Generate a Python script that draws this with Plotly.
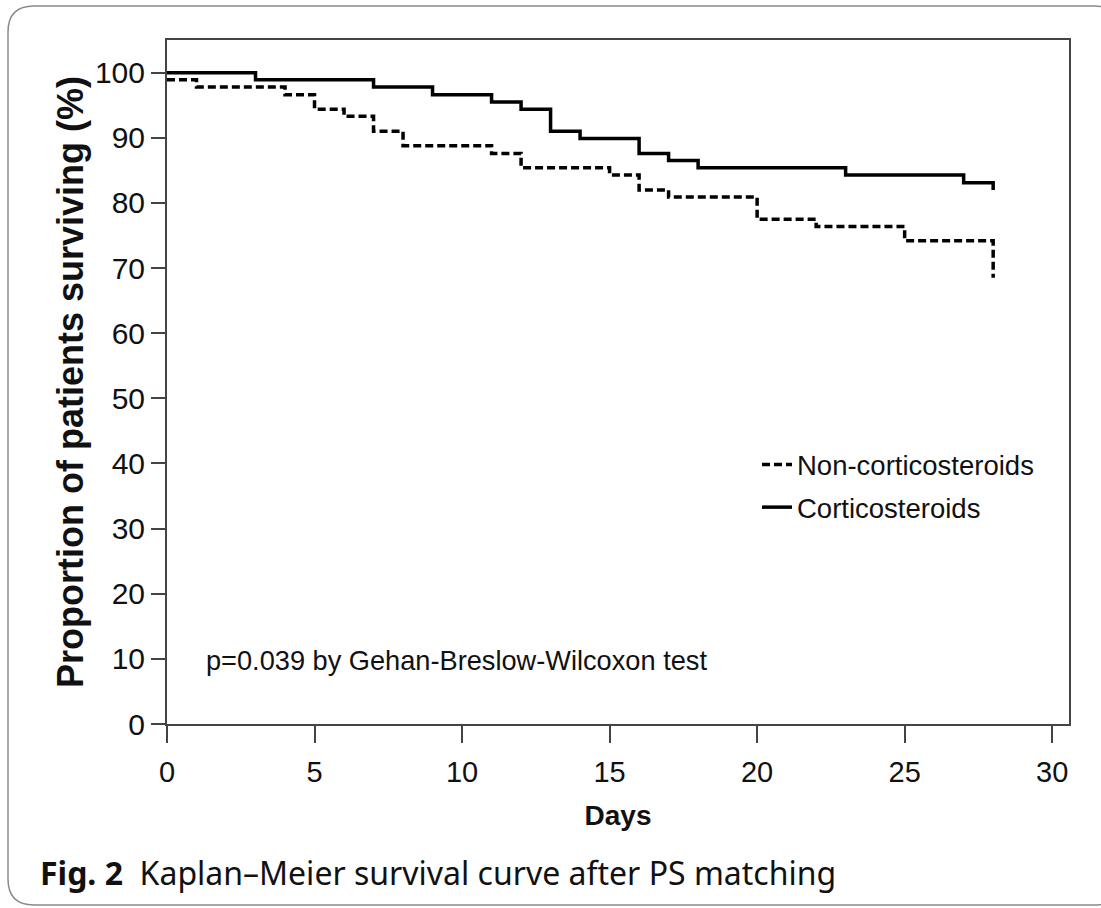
import plotly.graph_objects as go

# ---- data ----
cortico_days = [0, 3, 7, 9, 11, 12, 13, 14, 16, 17, 18, 23, 27, 28]
cortico_surv = [100, 98.9, 97.8, 96.6, 95.5, 94.4, 91.0, 89.9, 87.6, 86.5, 85.4, 84.3, 83.1, 82.0]

noncortico_days = [0, 1, 4, 5, 6, 7, 8, 11, 12, 15, 16, 17, 20, 22, 25, 28]
noncortico_surv = [98.9, 97.8, 96.6, 94.4, 93.3, 91.0, 88.8, 87.6, 85.4, 84.3, 82.0, 80.9, 77.5, 76.4, 74.2, 68.5]

x_ticks = [0, 5, 10, 15, 20, 25, 30]
y_ticks = [0, 10, 20, 30, 40, 50, 60, 70, 80, 90, 100]

series_names = ["Non-corticosteroids", "Corticosteroids"]
x_title = "Days"
y_title = "Proportion of patients surviving (%)"
p_text = "p=0.039 by Gehan-Breslow-Wilcoxon test"
caption = "<b>Fig. 2</b>  Kaplan\u2013Meier survival curve after PS matching"

# ---- layout geometry (pixels) ----
W, H = 1101, 908
PX_L, PX_R, PX_T, PX_B = 167, 1069, 40, 724


def px_x(px):
    return (px - PX_L) / (PX_R - PX_L)


def px_y(py):
    return (PX_B - py) / (PX_B - PX_T)


ARIAL = "Liberation Sans, Arial, sans-serif"

fig = go.Figure()
fig.add_trace(go.Scatter(
    x=noncortico_days, y=noncortico_surv, name=series_names[0],
    mode="lines", line=dict(shape="hv", color="black", width=3.5, dash="8px,4px"),
    legendgroup="a",
))
fig.add_trace(go.Scatter(
    x=cortico_days, y=cortico_surv, name=series_names[1],
    mode="lines", line=dict(shape="hv", color="black", width=3.5),
    legendgroup="b",
))

# outer rounded border of the figure panel
r = 26
x0, y0, x1, y1 = 8, 6, 1120, 905
path = (
    f"M {px_x(x0 + r)},{px_y(y0)} L {px_x(x1 - r)},{px_y(y0)} "
    f"Q {px_x(x1)},{px_y(y0)} {px_x(x1)},{px_y(y0 + r)} "
    f"L {px_x(x1)},{px_y(y1 - r)} Q {px_x(x1)},{px_y(y1)} {px_x(x1 - r)},{px_y(y1)} "
    f"L {px_x(x0 + r)},{px_y(y1)} Q {px_x(x0)},{px_y(y1)} {px_x(x0)},{px_y(y1 - r)} "
    f"L {px_x(x0)},{px_y(y0 + r)} Q {px_x(x0)},{px_y(y0)} {px_x(x0 + r)},{px_y(y0)} Z"
)

fig.update_layout(
    width=W, height=H,
    margin=dict(l=PX_L, r=W - PX_R, t=PX_T, b=H - PX_B, autoexpand=False),
    paper_bgcolor="white", plot_bgcolor="white",
    font=dict(family=ARIAL, color="#111"),
    showlegend=True,
    legend=dict(
        x=px_x(757), y=px_y(440), xanchor="left", yanchor="top",
        font=dict(family=ARIAL, size=27.5, color="#111"),
        itemwidth=30, tracegroupgap=4, bgcolor="rgba(0,0,0,0)",
        traceorder="grouped",
    ),
    shapes=[dict(type="path", path=path, xref="paper", yref="paper",
                 line=dict(color="#8a8a8a", width=1.5), layer="below")],
    annotations=[
        dict(text=p_text, xref="paper", yref="paper", x=px_x(204), y=px_y(660),
             xanchor="left", yanchor="middle", showarrow=False,
             font=dict(family=ARIAL, size=27.2, color="#111")),
        dict(text=caption, xref="paper", yref="paper", x=px_x(38), y=px_y(872),
             xanchor="left", yanchor="middle", showarrow=False,
             font=dict(family="Noto Sans, Open Sans, sans-serif", size=32, color="#111")),
    ],
)

fig.update_xaxes(
    range=[0, 30.57], tickvals=x_ticks, ticktext=[str(v) for v in x_ticks],
    showgrid=False, zeroline=False,
    showline=True, linecolor="#444", linewidth=2, mirror=True,
    ticks="outside", ticklen=17, tickwidth=2, tickcolor="#444",
    ticklabelstandoff=4,
    tickfont=dict(family=ARIAL, size=29, color="#111"),
    title=dict(text=f"<b>{x_title}</b>", font=dict(family=ARIAL, size=28, color="#111"), standoff=19),
)
fig.update_yaxes(
    range=[0, 105.02], tickvals=y_ticks, ticktext=[str(v) for v in y_ticks],
    showgrid=False, zeroline=False,
    showline=True, linecolor="#444", linewidth=2, mirror=True,
    ticks="outside", ticklen=14, tickwidth=2, tickcolor="#444",
    tickfont=dict(family=ARIAL, size=30, color="#111"),
    title=dict(text=f"<b>{y_title}</b>", font=dict(family=ARIAL, size=36, color="#111"), standoff=0),
)

fig.write_html("out.html")
